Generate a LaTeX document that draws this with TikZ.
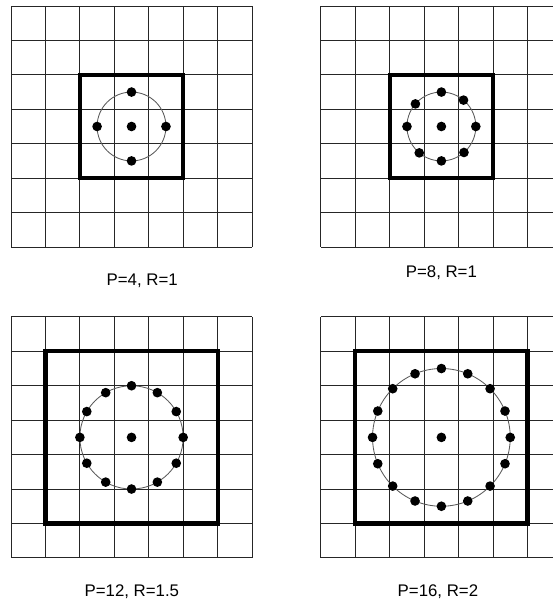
\documentclass[tikz,border=0pt]{standalone}
\usepackage{fontspec}
\setmainfont{Liberation Sans}
\begin{document}
\begin{tikzpicture}[x=1cm,y=1cm,
  every node/.style={font=\fontsize{13.9}{16}\selectfont},
  gridline/.style={line width=0.8pt,black!85},
  bigbox/.style={line width=3.4pt},
  ring/.style={line width=0.7pt,black!65},
  dotfill/.style={fill=black}]
% page
\path[use as bounding box,clip] (0,0) rectangle (16.061,17.514);
% P=4, R=1
\begin{scope}[shift={(0.32,10.34)}]
\draw[gridline] (0,0) grid (7,7);
\draw[bigbox] (2,2) rectangle (5,5);
\draw[ring] (3.5,3.5) circle (1);
\fill[dotfill] (3.5,3.5) circle (0.14);
\foreach \a in {0,90,180,270} \fill[dotfill] (3.5,3.5) ++(\a:1) circle (0.14);
\end{scope}
% P=8, R=1
\begin{scope}[shift={(9.32,10.34)}]
\draw[gridline] (0,0) grid (7,7);
\draw[bigbox] (2,2) rectangle (5,5);
\draw[ring] (3.5,3.5) circle (1);
\fill[dotfill] (3.5,3.5) circle (0.14);
\foreach \a in {0,50,90,139,180,230,270,311} \fill[dotfill] (3.5,3.5) ++(\a:1) circle (0.14);
\end{scope}
% P=12, R=1.5
\begin{scope}[shift={(0.32,1.31)}]
\draw[gridline] (0,0) grid (7,7);
\draw[bigbox] (1,1) rectangle (6,6);
\draw[ring] (3.5,3.5) circle (1.5);
\fill[dotfill] (3.5,3.5) circle (0.14);
\foreach \a in {0,30,...,330} \fill[dotfill] (3.5,3.5) ++(\a:1.5) circle (0.14);
\end{scope}
% P=16, R=2
\begin{scope}[shift={(9.32,1.31)}]
\draw[gridline] (0,0) grid (7,7);
\draw[bigbox] (1,1) rectangle (6,6);
\draw[ring] (3.5,3.5) circle (2);
\fill[dotfill] (3.5,3.5) circle (0.14);
\foreach \a in {0,22.5,...,337.5} \fill[dotfill] (3.5,3.5) ++(\a:2) circle (0.14);
\end{scope}
% labels
\node[anchor=base] (lab4) at (4.13,9.21) {P=4, R=1};
\node[anchor=base] (lab8) at (12.82,9.44) {P=8, R=1};
\node[anchor=base] (lab12) at (3.83,0.20) {P=12, R=1.5};
\node[anchor=base] (lab16) at (12.72,0.19) {P=16, R=2};
\end{tikzpicture}
\end{document}
